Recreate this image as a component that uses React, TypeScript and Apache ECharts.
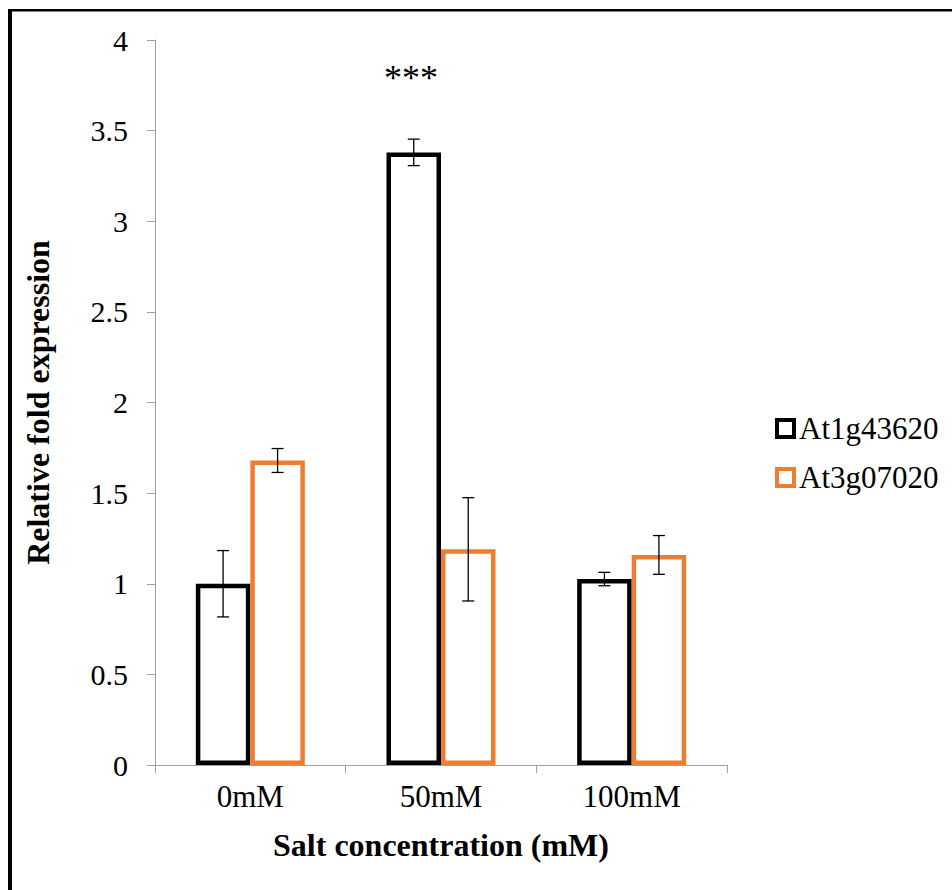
import React, { useEffect, useRef } from "react";
import * as echarts from "echarts";

const categories = ["0mM", "50mM", "100mM"];
const seriesNames = ["At1g43620", "At3g07020"];
const valuesA = [1.0, 3.38, 1.026];
const errorsA = [0.183, 0.073, 0.037];
const valuesB = [1.68, 1.19, 1.159];
const errorsB = [0.066, 0.285, 0.107];
const yTicks = { min: 0, max: 4, interval: 0.5 };
const significance = "***";

const FONT = '"Liberation Serif", "Times New Roman", serif';
const ORANGE = "#ED7D31";
const BAR_W = 54.5;

export default function App() {
  const ref = useRef<HTMLDivElement>(null);
  useEffect(() => {
    if (!ref.current) return;
    const chart = echarts.init(ref.current, undefined, { renderer: "svg" });
    const errData: any[] = [];
    valuesA.forEach((v, i) => errData.push([i, v, errorsA[i], -1]));
    valuesB.forEach((v, i) => errData.push([i, v, errorsB[i], 1]));

    const option: any = {
      animation: false,
      backgroundColor: "#ffffff",
      textStyle: { fontFamily: FONT },
      grid: { left: 155, right: 225, top: 40, bottom: 125 },
      legend: {
        data: seriesNames.map((n) => ({ name: n, icon: "rect" })),
        orient: "vertical",
        left: 770,
        top: 408,
        itemWidth: 17,
        itemHeight: 17,
        itemGap: 18,
        itemStyle: { borderWidth: 4 },
        textStyle: { fontSize: 31, color: "#000", fontFamily: FONT, padding: [0, 0, 0, 0] },
      },
      xAxis: {
        type: "category",
        data: categories,
        name: "Salt concentration (mM)",
        nameLocation: "middle",
        nameGap: 64,
        nameTextStyle: { fontSize: 32, fontWeight: "bold", color: "#000", fontFamily: FONT },
        axisLine: { lineStyle: { color: "#a0a0a0", width: 1 } },
        axisTick: { show: true, length: 8, lineStyle: { color: "#a0a0a0" } },
        axisLabel: { fontSize: 31, color: "#000", margin: 16, fontFamily: FONT },
        splitLine: { show: false },
      },
      yAxis: {
        type: "value",
        min: yTicks.min,
        max: yTicks.max,
        interval: yTicks.interval,
        name: "Relative fold expression",
        nameLocation: "middle",
        nameGap: 101,
        nameTextStyle: { fontSize: 32, fontWeight: "bold", color: "#000", fontFamily: FONT },
        axisLine: { show: true, lineStyle: { color: "#a0a0a0", width: 1 } },
        axisTick: { show: true, length: 8, lineStyle: { color: "#a0a0a0" } },
        axisLabel: { fontSize: 30, color: "#000", margin: 27, fontFamily: FONT },
        splitLine: { show: false },
      },
      series: [
        {
          name: seriesNames[0],
          type: "bar",
          data: valuesA,
          barWidth: BAR_W,
          barGap: "0%",
          itemStyle: { color: "#ffffff", borderColor: "#000000", borderWidth: 4.5 },
        },
        {
          name: seriesNames[1],
          type: "bar",
          data: valuesB,
          barWidth: BAR_W,
          barGap: "0%",
          itemStyle: { color: "#ffffff", borderColor: ORANGE, borderWidth: 4.5 },
        },
        {
          type: "custom",
          name: "err",
          z: 10,
          data: errData,
          renderItem: (params: any, api: any) => {
            const c = api.value(0);
            const v = api.value(1);
            const e = api.value(2);
            const side = api.value(3);
            const top = api.coord([c, v + e]);
            const bot = api.coord([c, v - e]);
            const x = top[0] + (side * BAR_W) / 2;
            const cap = 6;
            const st = { stroke: "#000", lineWidth: 1.3 };
            return {
              type: "group",
              children: [
                { type: "line", shape: { x1: x, y1: top[1], x2: x, y2: bot[1] }, style: st },
                { type: "line", shape: { x1: x - cap, y1: top[1], x2: x + cap, y2: top[1] }, style: st },
                { type: "line", shape: { x1: x - cap, y1: bot[1], x2: x + cap, y2: bot[1] }, style: st },
              ],
            };
          },
        },
      ],
      graphic: [
        { type: "line", shape: { x1: 10, y1: 10.3, x2: 960, y2: 10.3 }, style: { stroke: "#000", lineWidth: 2.5 } },
        { type: "line", shape: { x1: 10, y1: 9, x2: 10, y2: 900 }, style: { stroke: "#000", lineWidth: 4 } },
        {
          type: "text",
          x: 411,
          y: 78,
          style: {
            text: significance,
            font: `36px ${FONT}`,
            fill: "#000",
            textAlign: "center",
            textVerticalAlign: "middle",
          },
        },
      ],
    };
    chart.setOption(option);
    return () => chart.dispose();
  }, []);
  return (
    <div
      ref={ref}
      style={{ position: "fixed", left: 0, top: 0, width: 952, height: 890, background: "#fff" }}
    />
  );
}
